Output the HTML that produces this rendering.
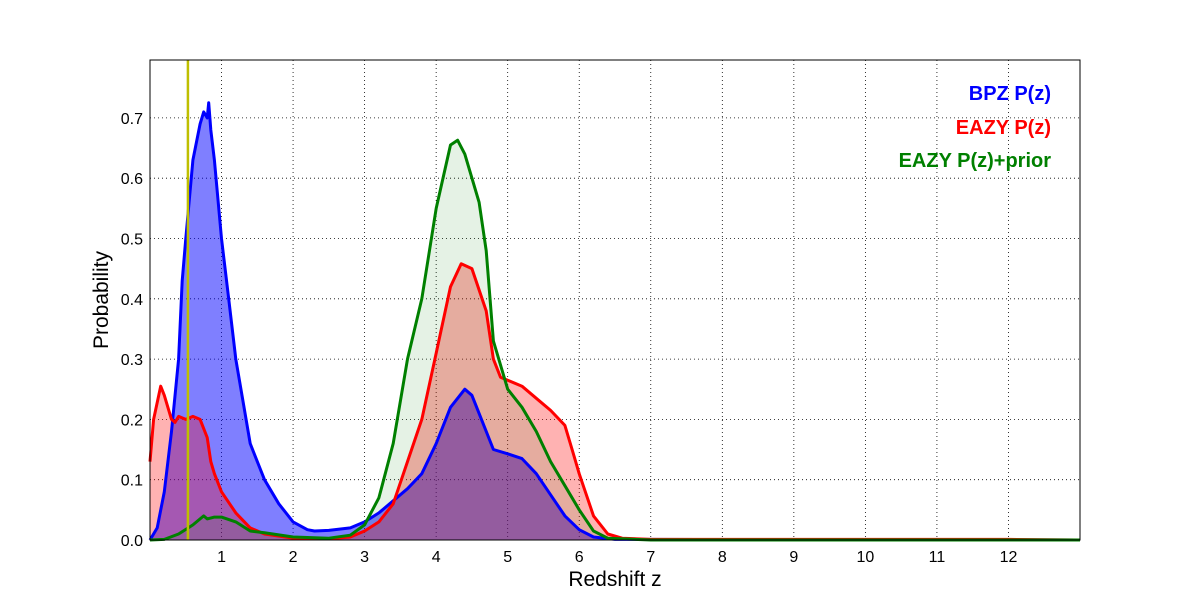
<!DOCTYPE html>
<html><head><meta charset="utf-8"><style>
body{margin:0;background:#fff;}
svg{display:block;font-family:"Liberation Sans","DejaVu Sans",sans-serif;}
</style></head><body>
<svg id="chart" width="1200" height="600" viewBox="0 0 1200 600">
<rect width="1200" height="600" fill="#fff"/>
<g id="grid"></g>
<g id="fills"></g>
<g id="lines"></g>
<g id="axes"></g>
<text x="615" y="586" text-anchor="middle" font-size="21">Redshift z</text>
<text transform="translate(108,300) rotate(-90)" text-anchor="middle" font-size="21">Probability</text>
<g font-weight="bold" font-size="20" text-anchor="end">
<text x="1051" y="100" fill="#0000ff">BPZ P(z)</text>
<text x="1051" y="134" fill="#ff0000">EAZY P(z)</text>
<text x="1051" y="167" fill="#008000">EAZY P(z)+prior</text>
</g>
</svg>
<script>
const xTicks=[1,2,3,4,5,6,7,8,9,10,11,12];
const yTicks=[0.0,0.1,0.2,0.3,0.4,0.5,0.6,0.7];
const yTickLabels=["0.0","0.1","0.2","0.3","0.4","0.5","0.6","0.7"];
const bpzZ=[0,0.1,0.2,0.3,0.4,0.45,0.5,0.6,0.7,0.75,0.8,0.82,0.85,0.9,1.0,1.1,1.2,1.3,1.4,1.5,1.6,1.8,2.0,2.2,2.3,2.5,2.8,3.0,3.2,3.4,3.6,3.8,4.0,4.2,4.4,4.5,4.6,4.8,5.0,5.2,5.4,5.6,5.8,6.0,6.2,6.5,13];
const bpzP=[0,0.02,0.08,0.18,0.3,0.43,0.5,0.63,0.69,0.71,0.7,0.725,0.68,0.63,0.5,0.4,0.3,0.23,0.16,0.13,0.1,0.06,0.03,0.017,0.015,0.016,0.02,0.03,0.045,0.065,0.085,0.11,0.16,0.22,0.25,0.24,0.21,0.15,0.143,0.135,0.11,0.075,0.04,0.017,0.005,0.001,0];
const eazyZ=[0,0.05,0.15,0.2,0.3,0.35,0.4,0.5,0.6,0.7,0.8,0.85,0.9,1.0,1.2,1.4,1.6,2.0,2.5,2.8,3.0,3.2,3.4,3.6,3.8,4.0,4.2,4.35,4.5,4.7,4.8,4.9,5.0,5.2,5.4,5.6,5.8,5.9,6.0,6.2,6.4,6.6,7,12,13];
const eazyP=[0.13,0.2,0.255,0.24,0.2,0.195,0.205,0.2,0.205,0.2,0.17,0.13,0.11,0.08,0.045,0.02,0.01,0.003,0.002,0.005,0.015,0.03,0.06,0.13,0.2,0.31,0.42,0.458,0.45,0.38,0.3,0.27,0.265,0.255,0.235,0.215,0.19,0.15,0.11,0.04,0.01,0.003,0.001,0.001,0];
const priorZ=[0,0.2,0.4,0.6,0.75,0.8,0.9,1.0,1.2,1.4,1.6,2.0,2.5,2.8,3.0,3.2,3.4,3.6,3.8,4.0,4.2,4.3,4.4,4.6,4.7,4.8,5.0,5.2,5.4,5.6,5.8,6.0,6.2,6.4,7,13];
const priorP=[0,0.001,0.01,0.025,0.04,0.035,0.038,0.038,0.03,0.015,0.012,0.005,0.003,0.008,0.025,0.07,0.16,0.3,0.4,0.55,0.655,0.663,0.64,0.56,0.48,0.33,0.25,0.22,0.18,0.13,0.09,0.05,0.015,0.003,0,0];
const markerZ=0.53;
const X0=150,X1=1080,Y0=540,Y1=60,XMAX=13,YMAX=0.796;
const sx=z=>X0+(X1-X0)*z/XMAX, sy=p=>Y0-(Y0-Y1)*p/YMAX;
const NS="http://www.w3.org/2000/svg";
function mk(tag,attrs,parent){const e=document.createElementNS(NS,tag);for(const k in attrs)e.setAttribute(k,attrs[k]);parent.appendChild(e);return e;}
const grid=document.getElementById('grid'),axes=document.getElementById('axes'),fills=document.getElementById('fills'),lines=document.getElementById('lines');
xTicks.forEach(t=>{const l=mk('line',{x1:sx(t),x2:sx(t),y1:Y1,y2:Y0,stroke:'#000','stroke-width':0.8,'stroke-dasharray':'1,3'},grid);


const tx=mk('text',{x:sx(t),y:Y0+22,'text-anchor':'middle','font-size':16},axes);tx.textContent=t;

});
yTicks.forEach((t,i)=>{if(t>0){const l=mk('line',{x1:X0,x2:X1,y1:sy(t),y2:sy(t),stroke:'#000','stroke-width':0.8,'stroke-dasharray':'1,3'},grid);

}
const tx=mk('text',{x:X0-7,y:sy(t)+6,'text-anchor':'end','font-size':16},axes);tx.textContent=yTickLabels[i];

});
function pts(Z,P){return Z.map((z,i)=>sx(z).toFixed(1)+','+sy(P[i]).toFixed(1));}
function series(Z,P,color,fop,name){
const pp=pts(Z,P);
const f=mk('polygon',{points:[sx(Z[0])+','+Y0].concat(pp,[sx(Z[Z.length-1])+','+Y0]).join(' '),fill:color,'fill-opacity':fop},fills);


const l=mk('polyline',{points:pp.join(' '),fill:'none',stroke:color,'stroke-width':3,'stroke-linejoin':'round'},lines);

}
series(bpzZ,bpzP,'#0000ff',0.5,'bpz');
series(eazyZ,eazyP,'#ff0000',0.3,'eazy');
series(priorZ,priorP,'#008000',0.1,'eazy-prior');
const m=mk('line',{x1:sx(markerZ),x2:sx(markerZ),y1:Y1,y2:Y0,stroke:'#bfbf00','stroke-width':2.5},lines);


const fr=mk('rect',{x:X0,y:Y1,width:X1-X0,height:Y0-Y1,fill:'none',stroke:'#000','stroke-width':1},axes);


</script>
</body></html>
